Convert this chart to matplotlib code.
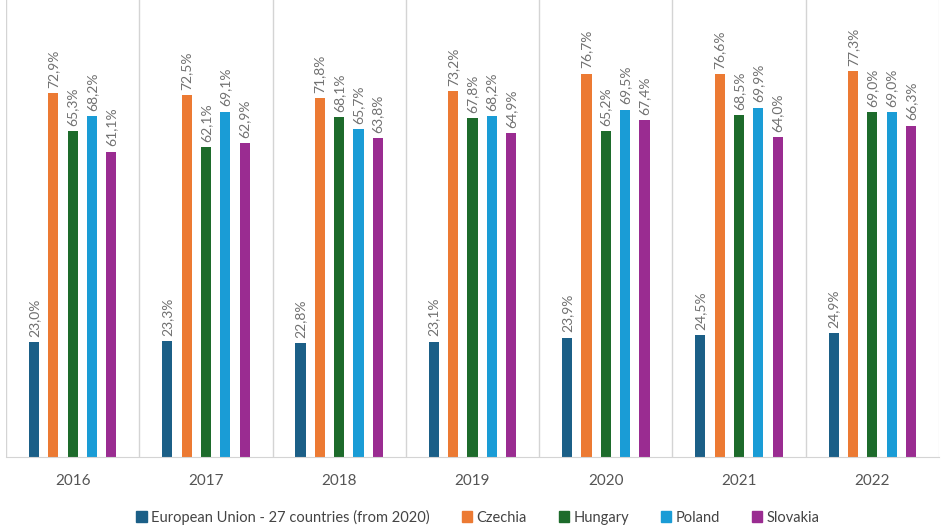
import numpy as np
import matplotlib.pyplot as plt
from matplotlib.patches import Patch

plt.rcParams['font.family'] = ['Lato', 'DejaVu Sans']

years = ['2016', '2017', '2018', '2019', '2020', '2021', '2022']
series_names = ['European Union - 27 countries (from 2020)', 'Czechia', 'Hungary', 'Poland', 'Slovakia']
eu = [23.0, 23.3, 22.8, 23.1, 23.9, 24.5, 24.9]
czechia = [72.9, 72.5, 71.8, 73.2, 76.7, 76.6, 77.3]
hungary = [65.3, 62.1, 68.1, 67.8, 65.2, 68.5, 69.0]
poland = [68.2, 69.1, 65.7, 68.2, 69.5, 69.9, 69.0]
slovakia = [61.1, 62.9, 63.8, 64.9, 67.4, 64.0, 66.3]
colors = ['#1b5f87', '#ec7a33', '#1d6b2b', '#1a9cd6', '#9a2c91']

values = [eu, czechia, hungary, poland, slovakia]
offsets = [-0.29, -0.145, 0.0, 0.145, 0.29]
bar_w = 0.076
text_col = '#707070'

fig = plt.figure(figsize=(9.42, 5.28), dpi=100)
ax = fig.add_axes([6 / 942, 1 - 457 / 528, 933 / 942, 457 / 528])

x = np.arange(len(years))
for vals, off, col in zip(values, offsets, colors):
    ax.bar(x + off, vals, width=bar_w, color=col)
    for xi, v in zip(x, vals):
        ax.text(xi + off, v + 1.0, f'{v:.1f}%'.replace('.', ','), rotation=90,
                ha='center', va='bottom', fontsize=10, color=text_col)

# lignes de séparation entre les années
for b in np.arange(-0.5, len(years) - 0.5, 1):
    ax.axvline(b, color='#d4d4d4', lw=1.0)
ax.axvline(len(years) - 0.5, color='#ececec', lw=1.0)

ax.set_xlim(-0.5, len(years) - 0.5)
ax.set_ylim(0, 91.4)
ax.set_yticks([])
ax.set_xticks(x)
ax.set_xticklabels(years, fontsize=11, color='#555555')
ax.tick_params(axis='x', length=0, pad=12)
for s in ['top', 'right', 'left']:
    ax.spines[s].set_visible(False)
ax.spines['bottom'].set_color('#d4d4d4')

handles = [Patch(color=c, label=n) for c, n in zip(colors, series_names)]
fig.legend(handles=handles, loc='center', bbox_to_anchor=(478 / 942, 1 - 517 / 528),
           ncol=5, frameon=False, fontsize=10.5, handlelength=0.7, handleheight=0.7,
           handletextpad=0.3, columnspacing=2.2, labelcolor='#444444')

fig.savefig('out.png', dpi=100)
